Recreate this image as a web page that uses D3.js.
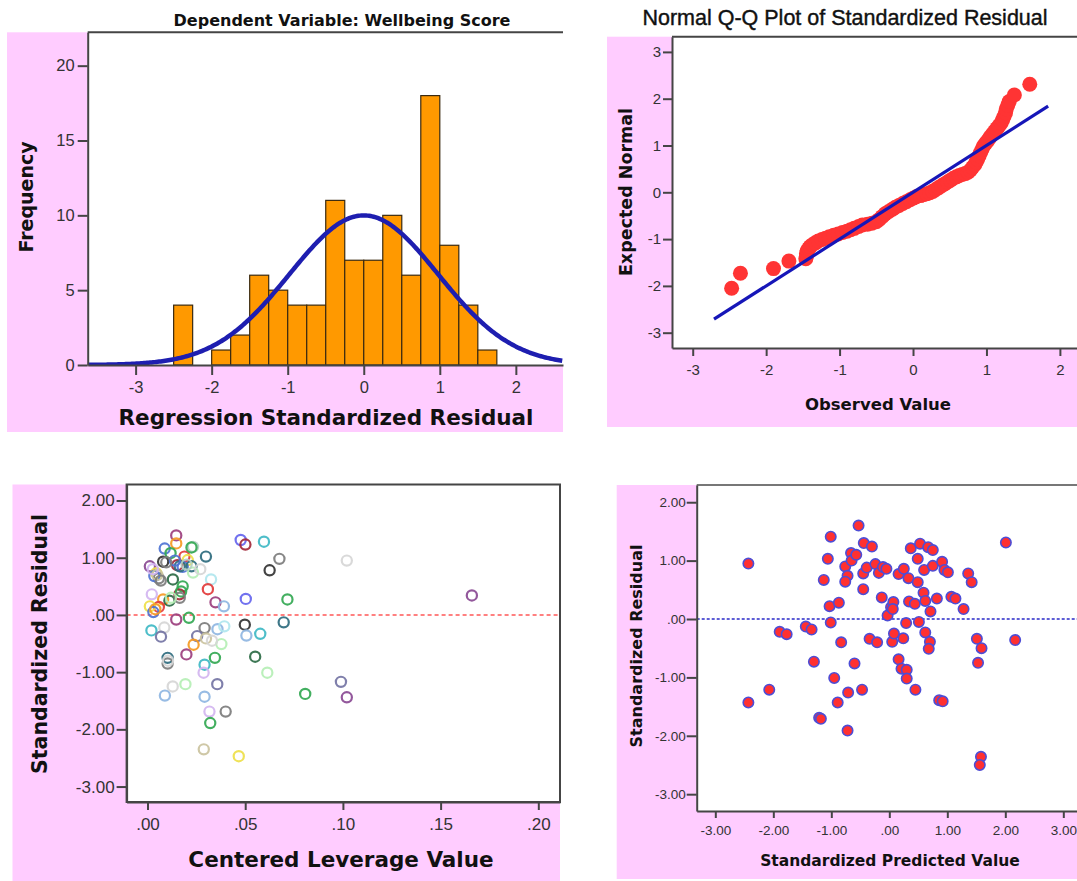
<!DOCTYPE html>
<html>
<head>
<meta charset="utf-8">
<script src="https://cdn.jsdelivr.net/npm/d3@7"></script>
<style>
  body { margin: 0; background: #fff; }
  svg { display: block; }
</style>
</head>
<body>
<svg id="chart" width="1077" height="881"></svg>
<script>
// ---------- Histogram of regression standardized residuals ----------
const histBinStart = [-2.5, -2.25, -2.0, -1.75, -1.5, -1.25, -1.0, -0.75, -0.5, -0.25, 0, 0.25, 0.5, 0.75, 1.0, 1.25, 1.5];
const histCounts   = [4, 0, 1, 2, 6, 5, 4, 4, 11, 7, 7, 10, 6, 18, 8, 4, 1];
const histBinWidth = 0.25;
const residualMean = 0;
const residualSd = 0.978;
const caseCount = 98;
const histXTicks = [-3, -2, -1, 0, 1, 2];
const histYTicks = [0, 5, 10, 15, 20];

// ---------- Normal Q-Q plot ----------
const qqObserved = [-2.47,-2.35,-1.90,-1.69,-1.46,-1.45,-1.45,-1.44,-1.42,-1.40,
  -1.37,-1.33,-1.29,-1.24,-1.19,-1.14,-1.08,-1.02,-0.96,-0.90,
  -0.85,-0.80,-0.74,-0.69,-0.62,-0.56,-0.50,-0.46,-0.42,-0.38,
  -0.33,-0.28,-0.24,-0.19,-0.14,-0.09,-0.04,0.01,0.05,0.10,
  0.14,0.19,0.23,0.27,0.31,0.35,0.39,0.43,0.47,0.51,
  0.55,0.59,0.63,0.67,0.71,0.75,0.78,0.81,0.84,0.86,
  0.88,0.90,0.92,0.94,0.96,0.99,1.02,1.05,1.08,1.11,
  1.14,1.17,1.20,1.22,1.24,1.26,1.27,1.29,1.31,1.38,
  1.59];
const qqExpected = [-2.05,-1.73,-1.63,-1.47,-1.42,-1.36,-1.30,-1.25,-1.20,-1.16,
  -1.12,-1.08,-1.04,-1.01,-0.98,-0.95,-0.92,-0.89,-0.86,-0.83,
  -0.80,-0.77,-0.73,-0.70,-0.68,-0.66,-0.63,-0.58,-0.52,-0.46,
  -0.41,-0.36,-0.32,-0.28,-0.24,-0.20,-0.16,-0.12,-0.09,-0.07,
  -0.05,-0.03,-0.01,0.02,0.06,0.10,0.14,0.18,0.22,0.26,
  0.30,0.33,0.36,0.38,0.40,0.43,0.47,0.53,0.59,0.65,
  0.71,0.78,0.85,0.92,0.99,1.05,1.11,1.18,1.24,1.30,
  1.36,1.42,1.48,1.55,1.62,1.70,1.78,1.86,1.94,2.08,
  2.31];
const qqReference = [-2.71, 1.84];      // end points of the y = x reference line
const qqTicks = [-3, -2, -1, 0, 1, 2, 3];

// ---------- Centered leverage vs standardized residual ----------
const leverage = [0.0147,0.0147,0.0088,0.0118,0.0233,0.0299,0.0189,0.0206,0.0080,0.0152,
  0.0180,0.0225,0.0012,0.0045,0.0058,0.0035,0.0130,0.0233,0.0180,0.0325,
  0.0309,0.0022,0.0080,0.0112,0.0163,0.0172,0.0058,0.0012,0.0030,0.0348,
  0.0391,0.0503,0.0716,0.0147,0.0212,0.0020,0.0086,0.0069,0.0292,0.0254,
  0.0299,0.0358,0.0393,0.0236,0.0378,0.0199,0.0345,0.0498,0.0506,0.0577,
  0.0697,0.0551,0.0103,0.0103,0.0292,0.0287,0.0613,0.0357,0.0129,0.0194,
  0.0089,0.0292,0.0807,0.0317,0.0400,0.0321,0.0288,0.0467,0.0477,0.0501,
  0.0596,0.0675,0.0625,0.0990,0.1020,0.1020,0.1660,0.0165,0.0200,0.0050,
  0.0068,0.0040,0.0165,0.0140,0.0096,0.0027,0.0270,0.0105,0.0225,0.0330,
  0.0120];
const leverageResidual = [1.39,1.25,1.16,1.08,1.19,1.02,1.02,0.96,0.93,0.87,
  0.84,0.85,0.85,0.73,0.64,0.68,0.62,0.74,0.50,0.62,
  0.45,0.36,0.27,0.25,0.36,0.41,0.14,0.15,0.05,0.22,
  0.15,0.28,0.27,-0.08,-0.05,-0.27,-0.22,-0.38,-0.23,-0.37,
  -0.41,-0.25,-0.20,-0.52,-0.51,-0.69,-0.75,-0.17,-0.36,-0.33,
  -0.13,-0.73,-0.75,-0.85,-0.87,-1.01,-1.01,-1.21,-1.25,-1.21,
  -1.41,-1.43,-1.38,-1.69,-1.69,-1.89,-2.35,-2.47,1.31,1.23,
  1.28,0.98,0.78,-1.17,-1.44,0.95,0.34,0.85,0.88,0.70,
  0.60,0.10,0.30,0.95,0.92,0.80,0.80,-0.80,1.18,-0.45,
  0.30];
const markerGroup = [0,1,2,3,4,5,6,7,8,9,
  2,5,21,7,13,2,18,12,3,11,
  6,10,1,18,9,3,6,7,2,0,
  16,20,3,0,3,17,14,19,13,19,
  15,16,11,1,12,0,3,8,16,17,
  5,18,5,13,17,10,12,19,14,12,
  16,16,3,10,13,3,15,7,20,9,
  17,13,8,19,21,14,21,5,4,15,
  13,1,13,2,13,10,14,14,3,14,
  12];
const leverageXTicks = [0, 0.05, 0.10, 0.15, 0.20];
const residualTicks = [-3, -2, -1, 0, 1, 2];

// ---------- Standardized predicted vs standardized residual ----------
const predictedStd = [-2.43,-2.43,-2.07,-1.89,-1.77,-1.44,-1.34,-1.30,-1.21,-1.18,
  -1.13,-1.06,-1.01,-1.03,-0.87,-1.01,-0.95,-0.89,-0.83,-0.76,
  -0.72,-0.76,-0.66,-0.65,-0.57,-0.60,-0.71,-0.72,-0.53,-0.45,
  -0.45,-0.44,-0.39,-0.30,-0.47,-0.34,-0.21,-0.24,-0.18,-0.11,
  -0.05,-0.13,-0.03,0.03,0.07,0.06,0.05,0.08,0.16,0.16,
  0.21,0.25,0.29,0.24,0.30,0.30,0.33,0.34,0.37,0.44,
  0.45,0.49,0.49,0.53,0.59,0.60,0.62,0.51,0.62,0.67,
  0.75,0.75,0.70,0.68,0.71,0.82,0.86,0.92,0.91,0.95,
  1.01,1.07,1.14,1.28,1.36,1.42,1.51,1.59,1.53,1.58,
  1.56,2.01,2.17];
const residualStd = [0.95,-1.43,-1.21,-0.22,-0.26,-0.13,-0.18,-0.73,-1.69,-1.71,
  0.67,1.03,1.41,0.22,0.28,-0.06,-1.01,-1.43,-0.40,0.90,
  0.74,0.64,1.13,1.00,1.10,-0.76,-1.26,-1.91,1.60,0.51,
  0.78,1.30,0.88,1.24,-1.21,-0.34,-0.40,0.94,0.79,0.89,
  0.86,0.37,0.06,0.20,0.29,0.17,-0.39,-0.25,0.77,-0.69,
  -0.85,0.86,-0.07,-0.33,-0.87,-1.02,0.70,0.30,1.21,0.26,
  -1.21,0.63,1.03,1.29,0.45,0.84,0.31,-0.05,-0.23,1.23,
  1.18,0.91,-0.39,-0.51,0.13,0.35,-1.39,-1.41,0.98,0.84,
  0.80,0.38,0.35,0.17,0.78,0.63,-0.34,-0.50,-0.75,-2.36,
  -2.50,1.31,-0.36];
const predictedTicks = [-3, -2, -1, 0, 1, 2, 3];

// ---------- shared styling ----------
const PINK = "#ffccff";
const AXIS = "#454545";
const TICK_FONT = "'Liberation Sans', Arial, sans-serif";
const TITLE_FONT = "'DejaVu Sans', Verdana, sans-serif";
const markerPalette = ["#9c3f7e","#f59a23","#4f74d4","#33a852","#b4d0c4","#2e6b7e","#e23b3b",
  "#eee04a","#333333","#a3283a","#d3b5f0","#b0e6ee","#b5efb5","#7d7d7d","#d6d6d6",
  "#cbc3a0","#8fb6e2","#3fb8c4","#2c6b45","#7474a4","#6666ee","#8a4a94"];

const plainFmt = d => String(d);
// SPSS-style two-decimal labels without the leading zero: ".00", "-1.00"
const spssFmt = d => (d < 0 ? "-" : "") + Math.abs(d).toFixed(2).replace(/^0/, "");

const svg = d3.select("#chart");
svg.append("rect").attr("width", 1077).attr("height", 881).attr("fill", "#fff");

function styleAxis(g, size) {
  g.attr("font-family", TICK_FONT).attr("font-size", size);
  g.selectAll(".domain, .tick line").attr("stroke", AXIS).attr("stroke-width", 2);
  g.selectAll(".tick text").attr("fill", "#333");
}

function panelFrame(pink, plot, clipId) {
  const g = svg.append("g");
  g.append("rect").attr("x", pink[0]).attr("y", pink[1])
    .attr("width", pink[2] - pink[0]).attr("height", pink[3] - pink[1]).attr("fill", PINK);
  g.append("rect").attr("x", plot.L).attr("y", plot.T)
    .attr("width", plot.R - plot.L).attr("height", plot.B - plot.T).attr("fill", "#fff");
  g.append("clipPath").attr("id", clipId).append("rect")
    .attr("x", plot.L).attr("y", plot.T).attr("width", plot.R - plot.L).attr("height", plot.B - plot.T);
  return g;
}

function axisTitle(g, text, x, y, size, rotate) {
  const t = g.append("text").text(text)
    .attr("font-family", TITLE_FONT).attr("font-weight", "bold")
    .attr("font-size", size).attr("fill", "#111").attr("text-anchor", "middle");
  if (rotate) t.attr("transform", `translate(${x},${y}) rotate(-90)`);
  else t.attr("x", x).attr("y", y);
  return t;
}

// ================= Panel 1: histogram =================
{
  const P = { L: 87.7, T: 32.3, R: 563, B: 365 };
  const g = panelFrame([7, 32.3, 563, 432], P, "clipHist");
  const x = d3.scaleLinear().domain([-3.63, 2.62]).range([P.L, P.R]);
  const y = d3.scaleLinear().domain([0, 22.23]).range([P.B, P.T]);

  const bins = histBinStart.map((b, i) => ({ x0: b, x1: b + histBinWidth, n: histCounts[i] }))
    .filter(d => d.n > 0);
  g.append("g").selectAll("rect").data(bins).join("rect")
    .attr("x", d => x(d.x0)).attr("width", d => x(d.x1) - x(d.x0))
    .attr("y", d => y(d.n)).attr("height", d => y(0) - y(d.n))
    .attr("fill", "#ff9900").attr("stroke", "#3a2a10").attr("stroke-width", 1.2);

  // fitted normal density scaled to counts
  const density = v => caseCount * histBinWidth *
    Math.exp(-0.5 * ((v - residualMean) / residualSd) ** 2) / (residualSd * Math.sqrt(2 * Math.PI));
  const xs = d3.range(x.domain()[0], x.domain()[1] + 0.01, 0.02);
  g.append("path").attr("clip-path", "url(#clipHist)")
    .attr("d", d3.line().x(v => x(v)).y(v => y(density(v)))(xs))
    .attr("fill", "none").attr("stroke", "#1e1eb0").attr("stroke-width", 4.5);

  g.append("line").attr("x1", P.L).attr("x2", P.R).attr("y1", P.T).attr("y2", P.T)
    .attr("stroke", AXIS).attr("stroke-width", 2);
  const ax = g.append("g").attr("transform", `translate(0,${P.B})`)
    .call(d3.axisBottom(x).tickValues(histXTicks).tickFormat(plainFmt).tickSize(10).tickSizeOuter(0).tickPadding(6));
  styleAxis(ax, 16.5);
  const ay = g.append("g").attr("transform", `translate(${P.L},0)`)
    .call(d3.axisLeft(y).tickValues(histYTicks).tickFormat(plainFmt).tickSize(10).tickSizeOuter(0).tickPadding(3));
  styleAxis(ay, 16.5);

  axisTitle(g, "Dependent Variable: Wellbeing Score", 342, 26, 16);
  axisTitle(g, "Regression Standardized Residual", 326, 425, 21.5);
  axisTitle(g, "Frequency", 33, 197, 19, true);
}

// ================= Panel 2: normal Q-Q plot =================
{
  const P = { L: 672, T: 36.7, R: 1077, B: 348 };
  const g = panelFrame([607, 36.7, 1077, 427], P, "clipQQ");
  const x = d3.scaleLinear().domain([-3.282, 2.233]).range([P.L, P.R]);
  const y = d3.scaleLinear().domain([-3.327, 3.325]).range([P.B, P.T]);

  const pts = qqObserved.map((o, i) => ({ o, e: qqExpected[i] }));
  g.append("g").attr("clip-path", "url(#clipQQ)").selectAll("circle").data(pts).join("circle")
    .attr("cx", d => x(d.o)).attr("cy", d => y(d.e)).attr("r", 7.5).attr("fill", "#ff3434");
  g.append("line")
    .attr("x1", x(qqReference[0])).attr("y1", y(qqReference[0]))
    .attr("x2", x(qqReference[1])).attr("y2", y(qqReference[1]))
    .attr("stroke", "#1616b8").attr("stroke-width", 3.2);

  g.append("line").attr("x1", P.L).attr("x2", P.R).attr("y1", P.T).attr("y2", P.T)
    .attr("stroke", AXIS).attr("stroke-width", 2);
  const ax = g.append("g").attr("transform", `translate(0,${P.B})`)
    .call(d3.axisBottom(x).tickValues(qqTicks.filter(t => t <= 2)).tickFormat(plainFmt).tickSize(8).tickSizeOuter(0).tickPadding(8));
  styleAxis(ax, 15);
  const ay = g.append("g").attr("transform", `translate(${P.L},0)`)
    .call(d3.axisLeft(y).tickValues(qqTicks).tickFormat(plainFmt).tickSize(9).tickSizeOuter(0).tickPadding(2));
  styleAxis(ay, 15);

  g.append("text").text("Normal Q-Q Plot of Standardized Residual")
    .attr("x", 845).attr("y", 25).attr("text-anchor", "middle")
    .attr("font-family", TICK_FONT).attr("font-size", 21.5).attr("fill", "#111")
    .attr("stroke", "#111").attr("stroke-width", 0.4);
  axisTitle(g, "Observed Value", 878, 410, 16.5);
  axisTitle(g, "Expected Normal", 632, 192, 17.5, true);
}

// ================= Panel 3: leverage vs residual =================
{
  const P = { L: 126.6, T: 484.5, R: 560, B: 802 };
  const g = panelFrame([12.5, 484.5, 560, 881], P, "clipLev");
  const x = d3.scaleLinear().domain([-0.0107, 0.2111]).range([P.L, P.R]);
  const y = d3.scaleLinear().domain([-3.27, 2.28]).range([P.B, P.T]);
  const color = d3.scaleOrdinal().domain(d3.range(markerPalette.length)).range(markerPalette);

  g.append("line").attr("x1", P.L).attr("x2", P.R).attr("y1", y(0)).attr("y2", y(0))
    .attr("stroke", "#ff8080").attr("stroke-width", 2).attr("stroke-dasharray", "4,3");

  const pts = leverage.map((v, i) => ({ v, r: leverageResidual[i], k: markerGroup[i] }));
  g.append("g").attr("clip-path", "url(#clipLev)").selectAll("circle").data(pts).join("circle")
    .attr("cx", d => x(d.v)).attr("cy", d => y(d.r)).attr("r", 5.1)
    .attr("fill", "none").attr("stroke", d => color(d.k)).attr("stroke-width", 2.2).attr("opacity", 0.92);

  g.append("rect").attr("x", P.L).attr("y", P.T).attr("width", P.R - P.L).attr("height", P.B - P.T)
    .attr("fill", "none").attr("stroke", AXIS).attr("stroke-width", 2);
  const ax = g.append("g").attr("transform", `translate(0,${P.B})`)
    .call(d3.axisBottom(x).tickValues(leverageXTicks).tickFormat(spssFmt).tickSize(8).tickSizeOuter(0).tickPadding(8));
  styleAxis(ax, 17);
  const ay = g.append("g").attr("transform", `translate(${P.L},0)`)
    .call(d3.axisLeft(y).tickValues(residualTicks).tickFormat(spssFmt).tickSize(10).tickSizeOuter(0).tickPadding(2));
  styleAxis(ay, 17);

  axisTitle(g, "Centered Leverage Value", 341, 867, 21.5);
  axisTitle(g, "Standardized Residual", 47, 644, 20.5, true);
}

// ================= Panel 4: predicted vs residual =================
{
  const P = { L: 696.7, T: 485, R: 1077, B: 811 };
  const g = panelFrame([616.7, 485, 1077, 879], P, "clipPred");
  const x = d3.scaleLinear().domain([-3.321, 3.236]).range([P.L, P.R]);
  const y = d3.scaleLinear().domain([-3.288, 2.295]).range([P.B, P.T]);

  g.append("line").attr("x1", P.L).attr("x2", P.R).attr("y1", y(0)).attr("y2", y(0))
    .attr("stroke", "#2a2ac8").attr("stroke-width", 1.5).attr("stroke-dasharray", "3,2");

  const pts = predictedStd.map((p, i) => ({ p, r: residualStd[i] }));
  g.append("g").attr("clip-path", "url(#clipPred)").selectAll("circle").data(pts).join("circle")
    .attr("cx", d => x(d.p)).attr("cy", d => y(d.r)).attr("r", 5.2)
    .attr("fill", "#ff3030").attr("stroke", "#4d4dd6").attr("stroke-width", 1.6);

  g.append("line").attr("x1", P.L).attr("x2", P.R).attr("y1", P.T).attr("y2", P.T)
    .attr("stroke", "#777").attr("stroke-width", 2);
  const ax = g.append("g").attr("transform", `translate(0,${P.B})`)
    .call(d3.axisBottom(x).tickValues(predictedTicks).tickFormat(spssFmt).tickSize(7).tickSizeOuter(0).tickPadding(7));
  styleAxis(ax, 13.5);
  const ay = g.append("g").attr("transform", `translate(${P.L},0)`)
    .call(d3.axisLeft(y).tickValues(residualTicks).tickFormat(spssFmt).tickSize(10).tickSizeOuter(0).tickPadding(1));
  styleAxis(ay, 13.5);

  axisTitle(g, "Standardized Predicted Value", 890, 866, 15.5);
  axisTitle(g, "Standardized Residual", 642, 646, 16, true);
}
</script>
</body>
</html>
